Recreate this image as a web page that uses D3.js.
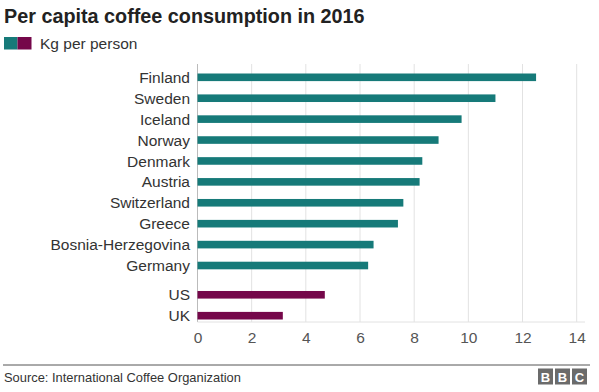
<!DOCTYPE html>
<html><head><meta charset="utf-8">
<script src="https://cdn.jsdelivr.net/npm/d3@7"></script>
<style>body{margin:0;background:#fff;font-family:Arial,"Liberation Sans",Helvetica,sans-serif;}</style>
</head><body>
<svg id="c" width="599" height="392"></svg>
<script>
const countries = ["Finland","Sweden","Iceland","Norway","Denmark","Austria","Switzerland","Greece","Bosnia-Herzegovina","Germany","US","UK"];
const values = [12.5,11.0,9.75,8.9,8.3,8.2,7.6,7.4,6.5,6.3,4.7,3.15];
const groups = ["top","top","top","top","top","top","top","top","top","top","other","other"];
const xTicks = [0,2,4,6,8,10,12,14];
const title = "Per capita coffee consumption in 2016";
const legendLabel = "Kg per person";
const source = "Source: International Coffee Organization";

const teal = "#167a79", purple = "#75074a";
const svg = d3.select("#c");
const x = d3.scaleLinear().domain([0,14]).range([197.5,576.7]);
const slots = countries.map((c,i)=> i<10 ? i : i+0.4);
const y = d3.scaleLinear().domain([0,11.4]).range([77.3,315.7]);

svg.append("text").attr("x",4).attr("y",23).attr("font-size",19.8).attr("font-weight","bold").attr("fill","#222").text(title);
svg.append("rect").attr("x",4).attr("y",37).attr("width",13.5).attr("height",12.5).attr("fill",teal);
svg.append("rect").attr("x",17.5).attr("y",37).attr("width",14).attr("height",12.5).attr("fill",purple);
svg.append("text").attr("x",40).attr("y",49).attr("font-size",15.5).attr("fill","#333").text(legendLabel);

svg.append("g").selectAll("line").data(xTicks).join("line")
  .attr("x1",d=>x(d)).attr("x2",d=>x(d)).attr("y1",64).attr("y2",322)
  .attr("stroke",d=>d===0?"#bbb":"#e2e2e2").attr("stroke-width",1);
svg.append("line").attr("x1",197.5).attr("x2",585).attr("y1",322).attr("y2",322).attr("stroke","#e2e2e2");

const axis = d3.axisBottom(x).tickValues(xTicks).tickSize(0).tickPadding(0);
const ag = svg.append("g").attr("transform","translate(0,332)").call(axis);
ag.select(".domain").remove();
ag.selectAll("text").attr("font-size",15.5).attr("fill","#555").attr("font-family","Arial,'Liberation Sans',sans-serif").attr("dy","0.7em");

svg.append("g").selectAll("rect").data(countries).join("rect")
  .attr("x",x(0)).attr("y",(d,i)=>y(slots[i])-3.8).attr("height",7.6)
  .attr("width",(d,i)=>x(values[i])-x(0))
  .attr("fill",(d,i)=>groups[i]==="top"?teal:purple);

svg.append("g").selectAll("text").data(countries).join("text")
  .attr("x",190).attr("y",(d,i)=>y(slots[i])).attr("dy","0.36em")
  .attr("text-anchor","end").attr("font-size",15.5).attr("fill","#333").text(d=>d);

svg.append("line").attr("x1",3).attr("x2",590).attr("y1",365).attr("y2",365).attr("stroke","#555").attr("stroke-width",1);
svg.append("text").attr("x",4).attr("y",382).attr("font-size",12.9).attr("fill","#333").text(source);
const bbc = ["B","B","C"];
const lg = svg.append("g");
bbc.forEach((l,i)=>{
  lg.append("rect").attr("x",538+i*17).attr("y",368.5).attr("width",15).attr("height",16).attr("fill","#6b6b6b");
  lg.append("text").attr("x",538+i*17+7.5).attr("y",381.5).attr("text-anchor","middle").attr("font-size",13).attr("font-weight","bold").attr("fill","#fff").text(l);
});
</script>
</body></html>
